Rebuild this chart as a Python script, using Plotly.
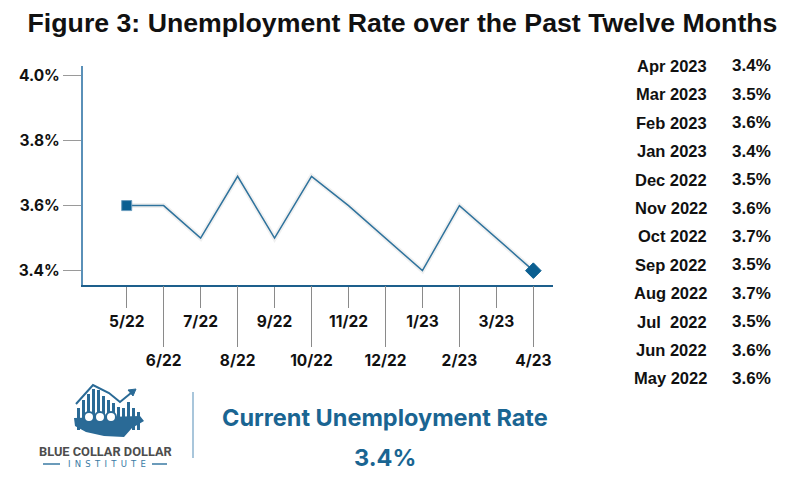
import plotly.graph_objects as go

# ---- data ----
month_ticks = ["5/22", "6/22", "7/22", "8/22", "9/22", "10/22",
               "11/22", "12/22", "1/23", "2/23", "3/23", "4/23"]
rate_values = [3.6, 3.6, 3.5, 3.69, 3.5, 3.69, 3.6, 3.5, 3.4, 3.6, 3.5, 3.4]

table_months = ["Apr 2023", "Mar 2023", "Feb 2023", "Jan 2023", "Dec 2022",
                "Nov 2022", "Oct 2022", "Sep 2022", "Aug 2022",
                "Jul\u00a0 2022", "Jun 2022", "May 2022"]
table_rates = ["3.4%", "3.5%", "3.6%", "3.4%", "3.5%", "3.6%",
               "3.7%", "3.5%", "3.7%", "3.5%", "3.6%", "3.6%"]

y_ticks = [3.4, 3.6, 3.8, 4.0]
current_rate = "3.4%"

W, H = 800, 500
OFF = 8  # the page body adds 8px around the figure
FONT = "Inter, Roboto, Noto Sans, sans-serif"
ARIAL = "Liberation Sans, Arial, sans-serif"
BLUE = "#0b5f91"
LINE_BLUE = "#2f739d"
LOGO_BLUE = "#2a6a96"


def px(x):
    return (x - OFF) / W


def py(y):
    return 1 - (y - OFF) / H


idx = list(range(len(month_ticks)))
even_idx = idx[0::2]
odd_idx = idx[1::2]

fig = go.Figure()

# faint shadow under the line
fig.add_trace(go.Scatter(
    x=idx, y=rate_values, mode="lines", xaxis="x", yaxis="y",
    line=dict(color="rgba(0,0,0,0.06)", width=5), hoverinfo="skip"))

fig.add_trace(go.Scatter(
    x=idx, y=rate_values, mode="lines", xaxis="x", yaxis="y",
    line=dict(color=LINE_BLUE, width=1.5)))

fig.add_trace(go.Scatter(
    x=[idx[0], idx[-1]], y=[rate_values[0], rate_values[-1]],
    mode="markers", xaxis="x", yaxis="y",
    marker=dict(symbol=["square", "diamond"], size=[10, 12], color=BLUE,
                opacity=1, line=dict(color=["#6a9cbd", BLUE], width=1))))

# invisible trace to activate the second x axis (long ticks)
fig.add_trace(go.Scatter(
    x=[idx[0], idx[-1]], y=[rate_values[0], rate_values[-1]], mode="none",
    xaxis="x2", yaxis="y", hoverinfo="skip"))

x_range = [-1.19, 11.54]
tick_font = dict(family=FONT, size=15.5, color="#111111", weight="bold")

annotations = []

# right-hand table
for i, (m, r) in enumerate(zip(table_months, table_rates)):
    yy = 66 + i * 28.4
    annotations.append(dict(x=px(709), y=py(yy), xref="paper", yref="paper",
                            text=m, showarrow=False, xanchor="right",
                            yanchor="middle",
                            font=dict(family=ARIAL, size=16.5, color="#111111",
                                      weight="bold")))
    annotations.append(dict(x=px(730), y=py(yy), xref="paper", yref="paper",
                            text=r, showarrow=False, xanchor="left",
                            yanchor="middle",
                            font=dict(family=ARIAL, size=17, color="#111111",
                                      weight="bold")))

# bottom panel text
annotations += [
    dict(x=px(384.5), y=py(417), xref="paper", yref="paper",
         text="Current Unemployment Rate", showarrow=False,
         xanchor="center", yanchor="middle",
         font=dict(family=FONT, size=23.5, color="#1a6592", weight="bold")),
    dict(x=px(385), y=py(457), xref="paper", yref="paper",
         text=current_rate, showarrow=False, xanchor="center", yanchor="middle",
         font=dict(family=FONT, size=23.5, color="#1a6592", weight="bold")),
    dict(x=px(105.5), y=py(451), xref="paper", yref="paper",
         text="BLUE COLLAR DOLLAR", showarrow=False,
         xanchor="center", yanchor="middle",
         font=dict(family="Roboto, sans-serif", size=12.8, color="#4d4d4d",
                   weight="bold")),
    dict(x=px(106.5), y=py(464), xref="paper", yref="paper",
         text="I\u2002N\u2002S\u2002T\u2002I\u2002T\u2002U\u2002T\u2002E",
         showarrow=False, xanchor="center", yanchor="middle",
         font=dict(family="DejaVu Sans, sans-serif", size=8.5, color="#3a7aa3")),
]

shapes = [
    # separator
    dict(type="line", xref="paper", yref="paper", x0=px(193), x1=px(193),
         y0=py(392), y1=py(458), line=dict(color="#8db3cf", width=1.5)),
    # INSTITUTE side rules
    dict(type="line", xref="paper", yref="paper", x0=px(43), x1=px(60),
         y0=py(464), y1=py(464), line=dict(color="#3a7aa3", width=1.5)),
    dict(type="line", xref="paper", yref="paper", x0=px(152), x1=px(167),
         y0=py(464), y1=py(464), line=dict(color="#3a7aa3", width=1.5)),
]

# logo icon: map silhouette, bars, trend arrow, hard-hat heads
logo_bars = [(77, 408), (82, 400), (87, 394), (92, 389), (97, 390), (102, 396),
             (107, 400), (112, 403), (117, 407), (122, 408), (127, 402),
             (132, 408), (137, 412)]
for bx, top in logo_bars:
    shapes.append(dict(type="rect", xref="paper", yref="paper",
                       x0=px(bx), x1=px(bx + 3), y0=py(430), y1=py(top),
                       fillcolor=LOGO_BLUE, line=dict(width=0)))
map_path = ("M {} {} L {} {} L {} {} L {} {} L {} {} L {} {} L {} {} L {} {} Z"
            .format(px(74), py(418), px(140), py(416), px(144), py(421),
                    px(132), py(428), px(124), py(437), px(104), py(436),
                    px(86), py(432), px(75), py(426)))
shapes.append(dict(type="path", xref="paper", yref="paper", path=map_path,
                   fillcolor=LOGO_BLUE, line=dict(width=0)))
trend = ("M {} {} L {} {} L {} {} L {} {} L {} {}"
         .format(px(76), py(404), px(93), py(385), px(109), py(393),
                 px(120), py(402), px(131), py(393)))
shapes.append(dict(type="path", xref="paper", yref="paper", path=trend,
                   line=dict(color=LOGO_BLUE, width=2)))
shapes.append(dict(type="path", xref="paper", yref="paper",
                   path="M {} {} L {} {} L {} {} Z".format(
                       px(128), py(390), px(136), py(389), px(133), py(396)),
                   fillcolor=LOGO_BLUE, line=dict(color=LOGO_BLUE, width=1)))
for hx in (89, 100, 111):
    shapes.append(dict(type="circle", xref="paper", yref="paper",
                       x0=px(hx - 5), x1=px(hx + 5), y0=py(422), y1=py(412),
                       fillcolor="white", line=dict(color=LOGO_BLUE, width=2)))

fig.update_layout(
    width=W, height=H,
    margin=dict(l=0, r=0, t=0, b=0),
    paper_bgcolor="white", plot_bgcolor="white",
    showlegend=False,
    title=dict(text="<b>Figure 3: Unemployment Rate over the Past Twelve Months</b>",
               x=px(402.5), xanchor="center", y=py(22.5), yanchor="middle",
               font=dict(family=ARIAL, size=26.7, color="#111111")),
    xaxis=dict(domain=[px(82.7), px(553.3)], range=x_range,
               tickvals=even_idx, ticktext=[month_ticks[i] for i in even_idx],
               ticks="outside", ticklen=21, tickcolor="#8a8a8a", tickwidth=1,
               showline=True, linecolor="#1d5f8c", linewidth=1.5,
               showgrid=False, zeroline=False, tickfont=tick_font,
               anchor="y", fixedrange=True),
    xaxis2=dict(domain=[px(82.7), px(553.3)], range=x_range, overlaying="x",
                side="bottom", anchor="y",
                tickvals=odd_idx, ticktext=[month_ticks[i] for i in odd_idx],
                ticks="outside", ticklen=61, tickcolor="#8a8a8a", tickwidth=1,
                showline=False, showgrid=False, zeroline=False,
                tickfont=tick_font),
    yaxis=dict(domain=[py(285.3), py(66)], range=[3.355, 4.029],
               tickvals=y_ticks, ticktext=["{:.1f}%".format(v) for v in y_ticks],
               ticks="outside", ticklen=18, tickcolor="#9a9a9a", tickwidth=1,
               showline=True, linecolor="#5a90b8", linewidth=1.5,
               showgrid=False, zeroline=False, tickfont=tick_font,
               automargin=False),
    annotations=annotations,
    shapes=shapes,
)

fig.write_html("out.html")
